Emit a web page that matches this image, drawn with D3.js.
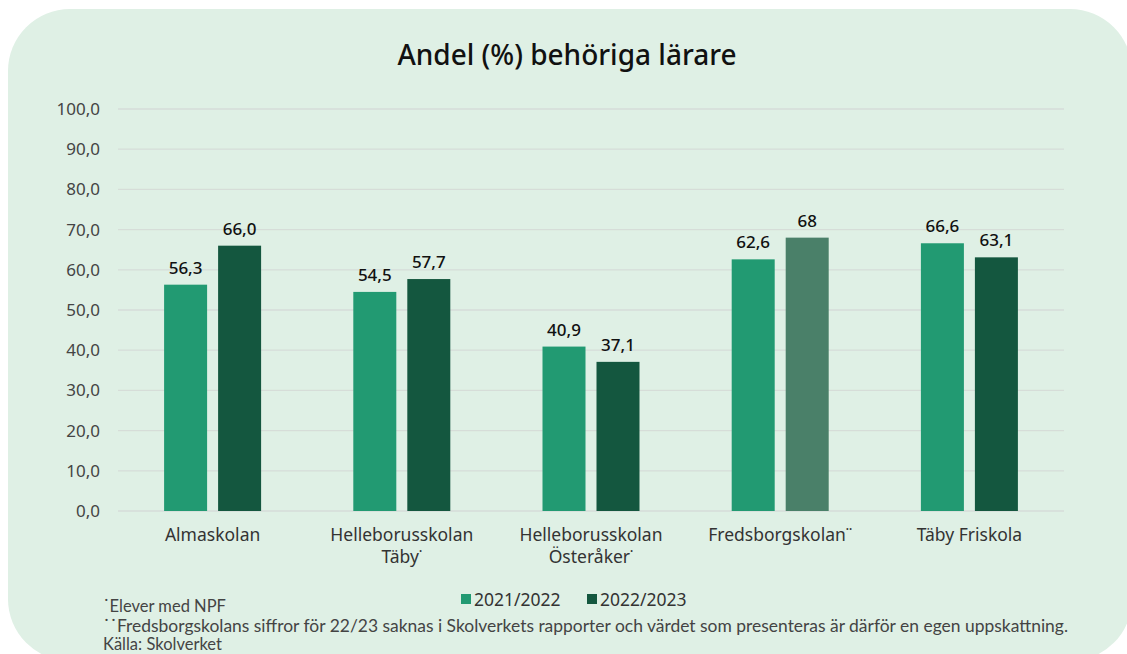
<!DOCTYPE html>
<html>
<head>
<meta charset="utf-8">
<script src="https://cdn.jsdelivr.net/npm/d3@7"></script>
<style>
  body { margin: 0; background: #fff; }
  svg text { font-family: "Noto Sans", "Open Sans", sans-serif; }
</style>
</head>
<body>
<div id="chart"></div>
<script>
// data
const schools = ['Almaskolan', 'Helleborusskolan Täby*', 'Helleborusskolan Österåker*', 'Fredsborgskolan**', 'Täby Friskola']
const schoolLines = [['Almaskolan'], ['Helleborusskolan', 'Täby˙'], ['Helleborusskolan', 'Österåker˙'], ['Fredsborgskolan˙˙'], ['Täby Friskola']]
const years = ['2021/2022', '2022/2023']
const values2122 = [56.3, 54.5, 40.9, 62.6, 66.6]
const values2223 = [66.0, 57.7, 37.1, 68, 63.1]
const labels2122 = ['56,3', '54,5', '40,9', '62,6', '66,6']
const labels2223 = ['66,0', '57,7', '37,1', '68', '63,1']
const yTicks = [0, 10, 20, 30, 40, 50, 60, 70, 80, 90, 100]
const footnotes = [
  '˙Elever med NPF',
  '˙˙Fredsborgskolans siffror för 22/23 saknas i Skolverkets rapporter och värdet som presenteras  är därför en egen uppskattning.',
  'Källa: Skolverket'
]

const colors = ['#229a72', '#14573f']
const estimatedColor = '#4a8069'

const W = 1127
const H = 654
const margin = { top: 109, right: 63, bottom: 143, left: 118 }
const width = W - margin.left - margin.right
const height = H - margin.top - margin.bottom

const svg = d3.select('#chart')
  .append('svg')
  .attr('width', W)
  .attr('height', H)

// card background
svg.append('rect')
  .attr('x', 8)
  .attr('y', 9)
  .attr('width', 1124)
  .attr('height', 652)
  .attr('rx', 62)
  .attr('fill', '#dff0e5')

svg.append('text')
  .attr('x', 567)
  .attr('y', 65)
  .attr('text-anchor', 'middle')
  .attr('font-size', 28)
  .attr('font-weight', 500)
  .attr('fill', '#111')
  .text('Andel (%) behöriga lärare')

const g = svg.append('g')
  .attr('transform', 'translate(' + margin.left + ',' + margin.top + ')')

const x = d3.scaleBand()
  .domain(schools)
  .range([0, width])

const yScale = d3.scaleLinear()
  .domain([0, 100])
  .range([height, 0])

const barWidth = 43
const barGap = 11

// grid
g.selectAll('.grid')
  .data(yTicks)
  .enter()
  .append('line')
  .attr('class', 'grid')
  .attr('x1', 0)
  .attr('x2', width)
  .attr('y1', d => yScale(d))
  .attr('y2', d => yScale(d))
  .attr('stroke', '#d6ddd8')
  .attr('stroke-width', 1.3)

const yAxis = d3.axisLeft(yScale)
  .tickValues(yTicks)
  .tickSize(0)
  .tickPadding(18)
  .tickFormat(d => d3.format('.1f')(d).replace('.', ','))

g.append('g')
  .attr('class', 'axis y-axis')
  .call(yAxis)
  .call(a => a.select('.domain').remove())
  .selectAll('text')
  .attr('font-size', 17)
  .attr('fill', '#444')
  .style('font-family', '"Noto Sans", sans-serif')

const series = [values2122, values2223]
const seriesLabels = [labels2122, labels2223]

series.forEach((vals, si) => {
  const offset = si === 0 ? -(barGap / 2 + barWidth) : barGap / 2
  g.selectAll('.bar' + si)
    .data(vals)
    .enter()
    .append('rect')
    .attr('class', 'bar' + si)
    .attr('x', (d, i) => x(schools[i]) + x.bandwidth() / 2 + offset)
    .attr('y', d => yScale(d))
    .attr('width', barWidth)
    .attr('height', d => height - yScale(d))
    .attr('fill', (d, i) => (si === 1 && i === 3) ? estimatedColor : colors[si])

  g.selectAll('.label' + si)
    .data(vals)
    .enter()
    .append('text')
    .attr('class', 'label' + si)
    .attr('x', (d, i) => x(schools[i]) + x.bandwidth() / 2 + offset + barWidth / 2)
    .attr('y', d => yScale(d) - 11)
    .attr('text-anchor', 'middle')
    .attr('font-size', 17)
    .attr('font-weight', 500)
    .attr('fill', '#111')
    .text((d, i) => seriesLabels[si][i])
})

// category labels
const cat = g.selectAll('.cat')
  .data(schools)
  .enter()
  .append('text')
  .attr('class', 'cat')
  .attr('x', d => x(d) + x.bandwidth() / 2)
  .attr('y', height + 30)
  .attr('text-anchor', 'middle')
  .attr('font-size', 17.5)
  .attr('fill', '#333')

cat.selectAll('tspan')
  .data((d, i) => schoolLines[i])
  .enter()
  .append('tspan')
  .attr('x', function () { return d3.select(this.parentNode).attr('x') })
  .attr('dy', (d, i) => i === 0 ? 0 : 22)
  .text(d => d)

// legend
const legend = svg.append('g')
  .attr('transform', 'translate(461,606)')

const legendX = [0, 126]
years.forEach((yr, i) => {
  legend.append('rect')
    .attr('x', legendX[i])
    .attr('y', -12)
    .attr('width', 10)
    .attr('height', 10)
    .attr('fill', colors[i])
  legend.append('text')
    .attr('x', legendX[i] + 13)
    .attr('y', 0)
    .attr('font-size', 17.5)
    .attr('fill', '#333')
    .text(yr)
})

// footnotes
const noteY = [612, 632, 650]
footnotes.forEach((t, i) => {
  const txt = svg.append('text')
    .attr('x', 103)
    .attr('y', noteY[i])
    .attr('font-size', 16.5)
    .attr('fill', '#444')
    .style('font-family', 'Lato, sans-serif')
    .text(t)
  if (i === 1) {
    txt.attr('textLength', 965).attr('lengthAdjust', 'spacingAndGlyphs')
  }
})
</script>
</body>
</html>
